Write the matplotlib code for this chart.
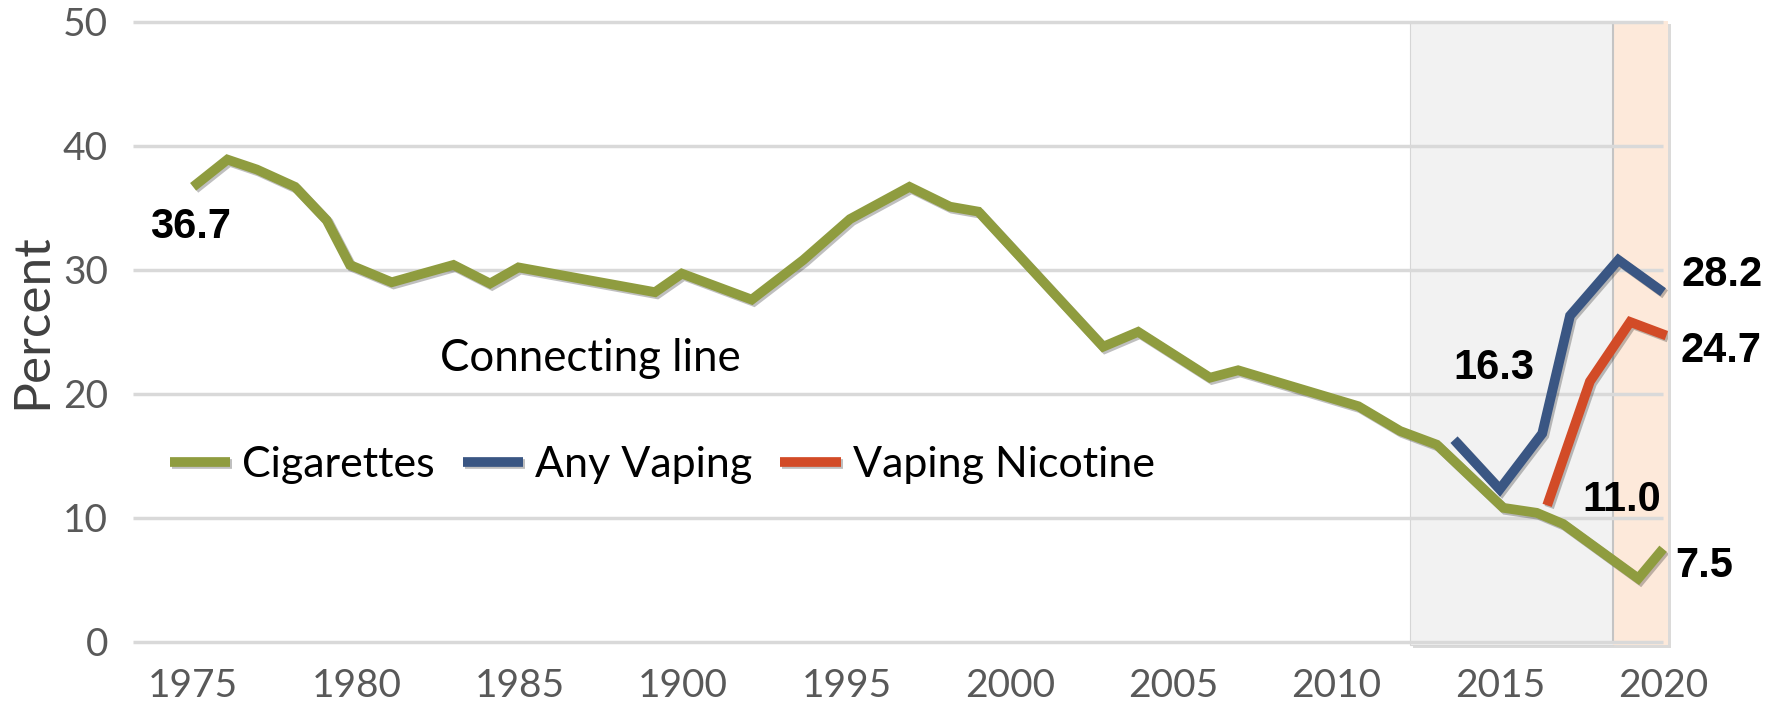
import matplotlib
matplotlib.use("Agg")
import matplotlib.pyplot as plt
import matplotlib.patheffects as pe
from matplotlib.patches import Rectangle

plt.rcParams['font.family'] = ['Lato', 'DejaVu Sans']

# 30-day prevalence, percent
cig_years = [1975.0, 1976.05, 1976.95, 1978.12, 1979.09, 1979.8, 1981.08, 1982.97,
             1984.09, 1984.96, 1989.14, 1989.96, 1992.1, 1993.68, 1995.11, 1996.93,
             1998.17, 1999.04, 2002.86, 2003.93, 2006.13, 2006.99, 2010.67, 2011.95,
             2013.07, 2015.11, 2016.13, 2016.94, 2019.24, 2020.0]
cig_pct = [36.7, 38.9, 38.1, 36.7, 34.0, 30.4, 29.0, 30.4,
           28.9, 30.2, 28.2, 29.7, 27.6, 30.8, 34.1, 36.7,
           35.1, 34.7, 23.8, 25.0, 21.3, 21.9, 19.0, 17.0,
           15.9, 10.8, 10.4, 9.5, 5.1, 7.5]

any_vape_years = [2013.6, 2015.0, 2016.3, 2017.15, 2018.63, 2020.0]
any_vape_pct = [16.3, 12.3, 16.8, 26.3, 30.8, 28.2]

nic_vape_years = [2016.45, 2017.76, 2018.99, 2020.1]
nic_vape_pct = [11.0, 21.0, 25.8, 24.7]

tick_years = [1975, 1980, 1985, 1990, 1995, 2000, 2005, 2010, 2015, 2020]
tick_labels = ['1975', '1980', '1985', '1900', '1995', '2000', '2005', '2010', '2015', '2020']

green = '#8f9c3f'
blue = '#3a5683'
orange = '#d24b27'

fig = plt.figure(figsize=(17.81, 7.01), dpi=100)
ax = fig.add_axes([133 / 1781, 59.3 / 701, 1535 / 1781, 619.7 / 701])
ax.set_xlim(1973.16, 2020.15)
ax.set_ylim(0, 50)
for s in ax.spines.values():
    s.set_visible(False)

# shaded periods
box_shadow = [pe.SimplePatchShadow(offset=(2, -2), alpha=0.2), pe.Normal()]
ax.add_patch(Rectangle((2012.25, -0.3), 2018.47 - 2012.25, 50.3, fc='#f2f2f2', ec='#d6d6d6',
                       lw=0.8, zorder=0, clip_on=False, path_effects=box_shadow))
ax.add_patch(Rectangle((2018.47, -0.3), 2020.15 - 2018.47, 50.4, fc='#fde9da', ec='none',
                       zorder=0.5, clip_on=False, path_effects=box_shadow))
ax.vlines(2018.47, -0.3, 50, color='#c4c4c4', lw=1.5, zorder=1)

ax.hlines(range(0, 51, 10), 1973.16, 2020.0, color='#d9d9d9', lw=2.5, zorder=1, clip_on=False)

shadow = [pe.SimpleLineShadow(offset=(1.5, -1.5), alpha=0.25), pe.Normal()]
style = dict(lw=7.0, solid_joinstyle='miter', solid_capstyle='butt', path_effects=shadow, zorder=3)
ax.plot(cig_years, cig_pct, color=green, label='Cigarettes', **style)
ax.plot(any_vape_years, any_vape_pct, color=blue, label='Any Vaping', **style)
ax.plot(nic_vape_years, nic_vape_pct, color=orange, label='Vaping Nicotine', **style)

# value labels at the ends of each series
bold = dict(family='Liberation Sans', weight='bold', fontsize=30, ha='center', va='baseline',
            textcoords='offset points', zorder=4)
ax.annotate(f'{cig_pct[0]:.1f}', (cig_years[0], cig_pct[0]), xytext=(-2, -37), **bold)
ax.annotate(f'{cig_pct[-1]:.1f}', (cig_years[-1], cig_pct[-1]), xytext=(29.5, -20), **bold)
ax.annotate(f'{any_vape_pct[0]:.1f}', (any_vape_years[0], any_vape_pct[0]), xytext=(29, 43.6), **bold)
ax.annotate(f'{any_vape_pct[-1]:.1f}', (any_vape_years[-1], any_vape_pct[-1]), xytext=(42.5, 4.8), **bold)
ax.annotate(f'{nic_vape_pct[0]:.1f}', (nic_vape_years[0], nic_vape_pct[0]), xytext=(54, -4.3), **bold)
ax.annotate(f'{nic_vape_pct[-1]:.1f}', (nic_vape_years[-1], nic_vape_pct[-1]), xytext=(39.6, -18.8), **bold)

ax.text(1982.56, 21.86, 'Connecting line', fontsize=31.5, color='black', va='baseline', ha='left')

ax.set_xticks(tick_years, tick_labels)
ax.set_yticks(range(0, 51, 10))
ax.tick_params(length=0, labelsize=28, labelcolor='#595959')
ax.tick_params(axis='x', pad=19)
ax.tick_params(axis='y', pad=18)
fig.text(32 / 1781, 1 - 321 / 701, 'Percent', rotation=90, fontsize=37, color='#404040',
         ha='center', va='center')

ax.legend(loc='center left', bbox_to_anchor=(0.024, 0.285), ncol=3, frameon=False, fontsize=31,
          handlelength=1.4, handletextpad=0.28, columnspacing=0.65, borderpad=0, borderaxespad=0)

fig.savefig('out.png', dpi=100)
